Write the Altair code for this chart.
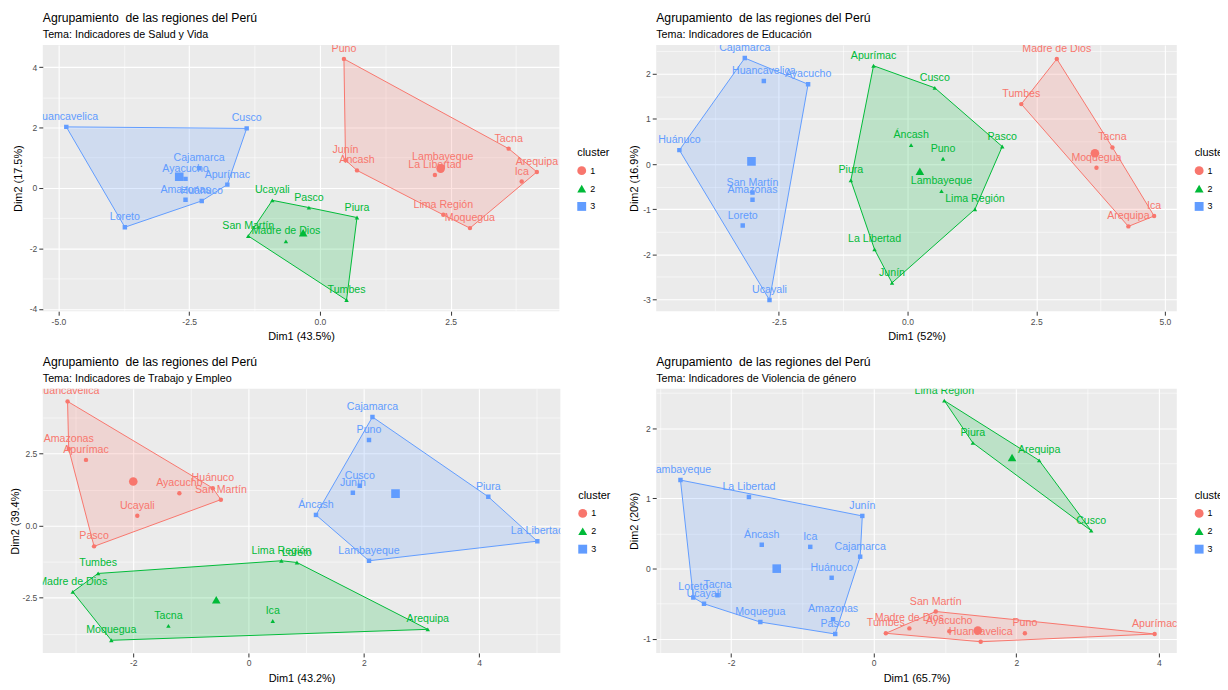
import altair as alt
import pandas as pd

RED, GREEN, BLUE = "#F8766D", "#00BA38", "#619CFF"
TITLE = "Agrupamiento\u00a0 de las regiones del Perú"

# ---------------- Panel 1: Salud y Vida ----------------
p1_names = ["Huancavelica", "Cusco", "Cajamarca", "Ayacucho", "Apurímac", "Amazonas", "Huánuco", "Loreto",
            "Puno", "Junín", "Áncash", "Lambayeque", "La Libertad", "Tacna", "Arequipa", "Ica", "Lima Región", "Moquegua",
            "Ucayali", "Pasco", "Piura", "San Martín", "Madre de Dios", "Tumbes"]
p1_x = [-4.85, -1.40, -2.31, -2.57, -1.77, -2.57, -2.26, -3.73,
        0.46, 0.49, 0.71, 2.35, 2.20, 3.61, 4.15, 3.86, 2.36, 2.87,
        -0.91, -0.21, 0.71, -1.37, -0.65, 0.51]
p1_y = [2.02, 1.97, 0.65, 0.30, 0.11, -0.39, -0.43, -1.30,
        4.27, 0.92, 0.58, 0.70, 0.43, 1.30, 0.53, 0.21, -0.89, -1.33,
        -0.41, -0.65, -0.98, -1.59, -1.77, -3.71]
p1_cl = ["3"] * 8 + ["1"] * 10 + ["2"] * 6
p1_cx = [2.31, -0.32, -2.69]
p1_cy = [0.64, -1.48, 0.37]

# ---------------- Panel 2: Educación ----------------
p2_names = ["Cajamarca", "Huancavelica", "Ayacucho", "Huánuco", "San Martín", "Amazonas", "Loreto", "Ucayali",
            "Apurímac", "Cusco", "Áncash", "Pasco", "Puno", "Piura", "Lambayeque", "Lima Región", "La Libertad", "Junín",
            "Madre de Dios", "Tumbes", "Tacna", "Moquegua", "Ica", "Arequipa"]
p2_x = [-3.16, -2.79, -1.93, -4.43, -3.01, -3.01, -3.20, -2.68,
        -0.66, 0.53, 0.07, 1.84, 0.69, -1.10, 0.66, 1.31, -0.64, -0.30,
        2.90, 2.21, 3.98, 3.67, 4.79, 4.29]
p2_y = [2.35, 1.84, 1.77, 0.31, -0.63, -0.79, -1.36, -3.01,
        2.18, 1.69, 0.42, 0.39, 0.12, -0.36, -0.60, -1.00, -1.89, -2.63,
        2.33, 1.33, 0.37, -0.08, -1.15, -1.38]
p2_cl = ["3"] * 8 + ["2"] * 10 + ["1"] * 6
p2_cx = [3.64, 0.24, -3.03]
p2_cy = [0.24, -0.16, 0.06]

# ---------------- Panel 3: Trabajo y Empleo ----------------
p3_names = ["Huancavelica", "Amazonas", "Apurímac", "Huánuco", "Ayacucho", "San Martín", "Ucayali", "Pasco",
            "Cajamarca", "Puno", "Cusco", "Junín", "Piura", "Áncash", "La Libertad", "Lambayeque",
            "Lima Región", "Loreto", "Tumbes", "Madre de Dios", "Ica", "Tacna", "Arequipa", "Moquegua"]
p3_x = [-3.14, -3.12, -2.82, -0.62, -1.20, -0.48, -1.93, -2.68,
        2.15, 2.09, 1.93, 1.81, 4.16, 1.17, 5.01, 2.09,
        0.57, 0.84, -2.61, -3.05, 0.42, -1.39, 3.11, -2.38]
p3_y = [4.31, 2.66, 2.28, 1.30, 1.12, 0.90, 0.34, -0.72,
        3.77, 2.97, 1.38, 1.14, 1.00, 0.37, -0.54, -1.22,
        -1.22, -1.28, -1.66, -2.30, -3.31, -3.48, -3.60, -3.98]
p3_cl = ["1"] * 8 + ["3"] * 8 + ["2"] * 8
p3_cx = [-2.00, -0.56, 2.55]
p3_cy = [1.53, -2.57, 1.11]

# ---------------- Panel 4: Violencia de género ----------------
p4_names = ["Lambayeque", "La Libertad", "Junín", "Áncash", "Ica", "Cajamarca", "Huánuco", "Tacna", "Loreto",
            "Ucayali", "Moquegua", "Amazonas", "Pasco",
            "San Martín", "Madre de Dios", "Tumbes", "Ayacucho", "Huancavelica", "Puno", "Apurímac",
            "Lima Región", "Piura", "Arequipa", "Cusco"]
p4_x = [-2.71, -1.75, -0.16, -1.57, -0.89, -0.19, -0.59, -2.19, -2.53, -2.38, -1.59, -0.57, -0.54,
        0.87, 0.50, 0.17, 1.06, 1.50, 2.12, 3.94,
        0.99, 1.39, 2.32, 3.05]
p4_y = [1.26, 1.02, 0.75, 0.34, 0.31, 0.17, -0.13, -0.38, -0.41, -0.50, -0.76, -0.72, -0.93,
        -0.61, -0.85, -0.92, -0.89, -1.04, -0.92, -0.93,
        2.39, 1.79, 1.54, 0.54]
p4_cl = ["3"] * 13 + ["1"] * 7 + ["2"] * 4
p4_cx = [1.46, 1.94, -1.36]
p4_cy = [-0.88, 1.58, 0.00]

CL = ["1", "2", "3"]


def convex_hull(pts):
    pts = sorted(set(pts))
    if len(pts) <= 2:
        return pts

    def cross(o, a, b):
        return (a[0] - o[0]) * (b[1] - o[1]) - (a[1] - o[1]) * (b[0] - o[0])

    lower, upper = [], []
    for p in pts:
        while len(lower) >= 2 and cross(lower[-2], lower[-1], p) <= 0:
            lower.pop()
        lower.append(p)
    for p in reversed(pts):
        while len(upper) >= 2 and cross(upper[-2], upper[-1], p) <= 0:
            upper.pop()
        upper.append(p)
    return lower[:-1] + upper[:-1]


def make_axis(title, majors, minors, fmt, title_pad):
    vals = sorted(majors + minors)
    arr = "[" + ",".join(repr(float(v)) for v in majors) + "]"
    test = f"indexof({arr}, datum.value) >= 0"
    return alt.Axis(
        title=title, values=vals, titlePadding=title_pad,
        labelExpr=f"{test} ? replace(format(datum.value, '{fmt}'), '\u2212', '-') : ''",
        gridWidth={"condition": {"test": test, "value": 1.1}, "value": 0.55},
        tickColor={"condition": {"test": test, "value": "#333333"}, "value": "rgba(0,0,0,0)"},
    )


def panel(names, xs, ys, cl, cx, cy, subtitle, xtitle, ytitle, xdom, ydom,
          xmaj, xmin, xfmt, ymaj, ymin, yfmt, width, height, ytpad=3):
    df = pd.DataFrame({"name": names, "x": xs, "y": ys, "cluster": cl})
    cdf = pd.DataFrame({"x": cx, "y": cy, "cluster": CL})
    rows = []
    for c in CL:
        sub = df[df.cluster == c]
        h = convex_hull(list(zip(sub.x, sub.y)))
        h = h + [h[0]]
        for i, (a, b) in enumerate(h):
            rows.append({"x": a, "y": b, "cluster": c, "ord": i})
    hdf = pd.DataFrame(rows)

    xs_ = alt.Scale(domain=xdom, nice=False, zero=False)
    ys_ = alt.Scale(domain=ydom, nice=False, zero=False)
    cs = alt.Scale(domain=CL, range=[RED, GREEN, BLUE])
    ss = alt.Scale(domain=CL, range=["circle", "triangle-up", "square"])
    xa = make_axis(xtitle, xmaj, xmin, xfmt, 5)
    ya = make_axis(ytitle, ymaj, ymin, yfmt, ytpad)
    leg = alt.Legend(title="cluster", orient="none", legendX=width + 18, legendY=height / 2 - 31)

    X = alt.X("x:Q", scale=xs_, axis=xa)
    Y = alt.Y("y:Q", scale=ys_, axis=ya)

    poly = alt.Chart(hdf).mark_line(strokeWidth=1, fillOpacity=0.2, clip=True).encode(
        x=X, y=Y, order="ord:Q",
        color=alt.Color("cluster:N", scale=cs, legend=leg),
        fill=alt.Fill("cluster:N", scale=cs, legend=None),
    )
    pts = alt.Chart(df).mark_point(filled=True, size=20, opacity=1, clip=True).encode(
        x=X, y=Y,
        color=alt.Color("cluster:N", scale=cs, legend=leg),
        shape=alt.Shape("cluster:N", scale=ss, legend=leg),
    )
    cen = alt.Chart(cdf).mark_point(filled=True, size=75, opacity=1, clip=True).encode(
        x=X, y=Y,
        color=alt.Color("cluster:N", scale=cs, legend=leg),
        shape=alt.Shape("cluster:N", scale=ss, legend=leg),
    )
    txt = alt.Chart(df).mark_text(fontSize=10.7, dy=-5, baseline="bottom", clip=True).encode(
        x=X, y=Y, text="name:N",
        color=alt.Color("cluster:N", scale=cs, legend=leg),
    )
    return alt.layer(poly, pts, cen, txt).properties(
        width=width, height=height,
        title=alt.TitleParams(text=TITLE, subtitle=subtitle, anchor="start", frame="group",
                              fontSize=12.3, fontWeight="normal", color="black",
                              subtitleFontSize=10.8, subtitleColor="black",
                              subtitlePadding=5, offset=5),
    )


c1 = panel(p1_names, p1_x, p1_y, p1_cl, p1_cx, p1_cy, "Tema: Indicadores de Salud y Vida",
           "Dim1 (43.5%)", "Dim2 (17.5%)", [-5.30, 4.58], [-4.08, 4.73],
           [-5, -2.5, 0, 2.5], [-3.75, -1.25, 1.25, 3.75], ".1f",
           [-4, -2, 0, 2, 4], [-3, -1, 1, 3], ".0f", 520, 268, ytpad=5.4)
c2 = panel(p2_names, p2_x, p2_y, p2_cl, p2_cx, p2_cy, "Tema: Indicadores de Educación",
           "Dim1 (52%)", "Dim2 (16.9%)", [-4.88, 5.23], [-3.26, 2.64],
           [-2.5, 0, 2.5, 5], [-3.75, -1.25, 1.25, 3.75], ".1f",
           [-3, -2, -1, 0, 1, 2], [-2.5, -1.5, -0.5, 0.5, 1.5, 2.5], ".0f", 524, 268)
c3 = panel(p3_names, p3_x, p3_y, p3_cl, p3_cx, p3_cy, "Tema: Indicadores de Trabajo y Empleo",
           "Dim1 (43.2%)", "Dim2 (39.4%)", [-3.57, 5.41], [-4.42, 4.75],
           [-2, 0, 2, 4], [-3, -1, 1, 3, 5], ".0f",
           [-2.5, 0, 2.5], [-3.75, -1.25, 1.25, 3.75], ".1f", 521, 266, ytpad=1.5)
c4 = panel(p4_names, p4_x, p4_y, p4_cl, p4_cx, p4_cy, "Tema: Indicadores de Violencia de género",
           "Dim1 (65.7%)", "Dim2 (20%)", [-3.05, 4.25], [-1.20, 2.56],
           [-2, 0, 2, 4], [-3, -1, 1, 3], ".0f",
           [-1, 0, 1, 2], [-0.5, 0.5, 1.5, 2.5], ".0f", 524, 266)

IND = dict(color="independent", shape="independent", fill="independent", x="independent", y="independent")
LEG = dict(color="independent", shape="independent", fill="independent")

chart = alt.concat(c1, c2, c3, c4, columns=2, spacing={"row": 13, "column": 17.5}).properties(
    align="none",
    padding={"left": 1, "top": 1, "right": -8, "bottom": -2},
).resolve_scale(**IND).resolve_legend(**LEG).configure(font="Liberation Sans").configure_view(
    fill="#EBEBEB", stroke=None
).configure_axis(
    domain=False, gridColor="white", labelColor="#4D4D4D", labelFontSize=8.6, tickSize=4,
    labelPadding=2, titleFontSize=11, titleFontWeight="normal", titleColor="black",
).configure_legend(
    titleFontSize=11, titleFontWeight="normal", titleColor="black", labelFontSize=9, labelColor="black",
    symbolSize=80, rowPadding=8, titlePadding=8, symbolStrokeWidth=0,
)

chart.save("out.html", embed_options={"renderer": "svg", "actions": False})
